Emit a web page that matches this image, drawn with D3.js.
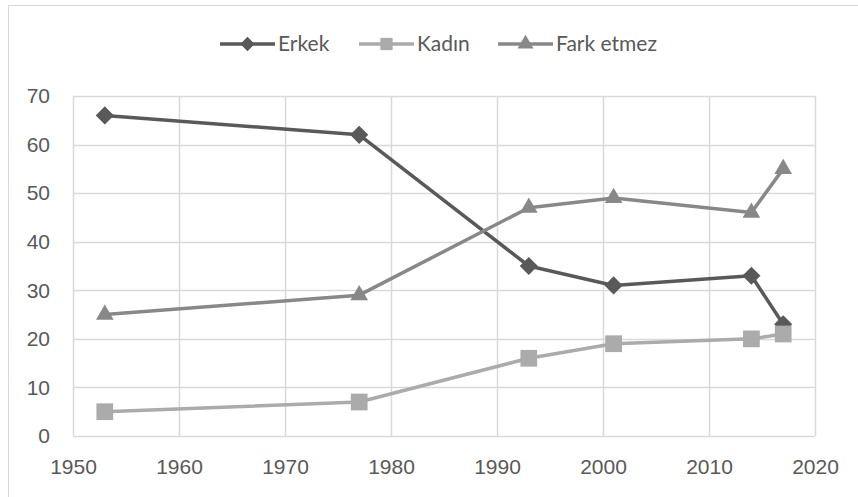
<!DOCTYPE html>
<html>
<head>
<meta charset="utf-8">
<script src="https://cdn.jsdelivr.net/npm/d3@7"></script>
<style>
  body { margin: 0; background: #fff; }
  svg { display: block; font-family: Lato, "Open Sans", sans-serif; }
</style>
</head>
<body>
<svg width="858" height="497"></svg>
<script>
// data
const years = [1953, 1977, 1993, 2001, 2014, 2017]
const erkek = [66, 62, 35, 31, 33, 23]
const kadin = [5, 7, 16, 19, 20, 21]
const farkEtmez = [25, 29, 47, 49, 46, 55]
const xTicks = [1950, 1960, 1970, 1980, 1990, 2000, 2010, 2020]
const yTicks = [0, 10, 20, 30, 40, 50, 60, 70]

const series = [
  {name: 'Erkek', values: erkek, color: '#595959', shape: d3.symbolDiamond2},
  {name: 'Kadın', values: kadin, color: '#ababab', shape: d3.symbolSquare},
  {name: 'Fark etmez', values: farkEtmez, color: '#888888', shape: d3.symbolTriangle}
]

const svg = d3.select('svg'),
    margin = {top: 96, right: 43, bottom: 61, left: 73},
    width = 858 - margin.left - margin.right,
    height = 497 - margin.top - margin.bottom,
    x = d3.scaleLinear().domain([1950, 2020]).range([0, width]),
    y = d3.scaleLinear().domain([0, 70]).range([height, 0])

// outer frame
svg.append('rect')
    .attr('x', 8.5).attr('y', 5.5)
    .attr('width', 870).attr('height', 510)
    .attr('fill', 'none').attr('stroke', '#d9d9d9').attr('stroke-width', 1)

const chart = svg.append('g')
    .attr('transform', 'translate(' + margin.left + ',' + margin.top + ')')

// grid
chart.append('g')
    .selectAll('line.h').data(yTicks).enter().append('line')
    .attr('x1', 0).attr('x2', width)
    .attr('y1', d => Math.round(y(d)) + 0.5).attr('y2', d => Math.round(y(d)) + 0.5)
    .attr('stroke', '#d9d9d9').attr('stroke-width', 1.5)
chart.append('g')
    .selectAll('line.v').data(xTicks).enter().append('line')
    .attr('y1', 0).attr('y2', height)
    .attr('x1', d => Math.round(x(d)) + 0.5).attr('x2', d => Math.round(x(d)) + 0.5)
    .attr('stroke', '#d9d9d9').attr('stroke-width', 1.5)

// axes (labels only)
const yAxis = chart.append('g')
    .call(d3.axisLeft(y).tickValues(yTicks).tickSize(0).tickPadding(23))
const xAxis = chart.append('g')
    .attr('transform', 'translate(0,' + height + ')')
    .call(d3.axisBottom(x).tickValues(xTicks).tickFormat(d3.format('d')).tickSize(0).tickPadding(23))
;[xAxis, yAxis].forEach(a => {
  a.select('.domain').remove()
  a.selectAll('text').attr('fill', '#595959').style('font-size', '21px')
})

// lines and markers
const line = d3.line().x(d => x(d[0])).y(d => y(d[1]))
series.forEach(s => {
  const pts = years.map((yr, i) => [yr, s.values[i]])
  chart.append('path')
      .datum(pts)
      .attr('d', line)
      .attr('fill', 'none')
      .attr('stroke', s.color)
      .attr('stroke-width', 3.5)
      .attr('stroke-linejoin', 'round')
  chart.append('g').selectAll('path').data(pts).enter().append('path')
      .attr('d', d3.symbol().type(s.shape).size(s.shape === d3.symbolTriangle ? 135 : s.shape === d3.symbolSquare ? 280 : 210))
      .attr('transform', d => 'translate(' + x(d[0]) + ',' + y(d[1]) + ')')
      .attr('fill', s.color)
})

// legend
const legendX = [220, 359, 498]
const legend = svg.append('g').attr('transform', 'translate(0,44)')
series.forEach((s, i) => {
  const g = legend.append('g').attr('transform', 'translate(' + legendX[i] + ',0)')
  g.append('line').attr('x1', 0).attr('x2', 55).attr('y1', 0).attr('y2', 0)
      .attr('stroke', s.color).attr('stroke-width', 3.5)
  g.append('path')
      .attr('d', d3.symbol().type(s.shape).size(s.shape === d3.symbolTriangle ? 110 : s.shape === d3.symbolSquare ? 150 : 130))
      .attr('transform', 'translate(27.5,0)')
      .attr('fill', s.color)
  g.append('text').attr('x', 58).attr('y', 0).attr('dy', '0.35em')
      .attr('fill', '#595959').style('font-size', '21px')
      .text(s.name)
})
</script>
</body>
</html>
